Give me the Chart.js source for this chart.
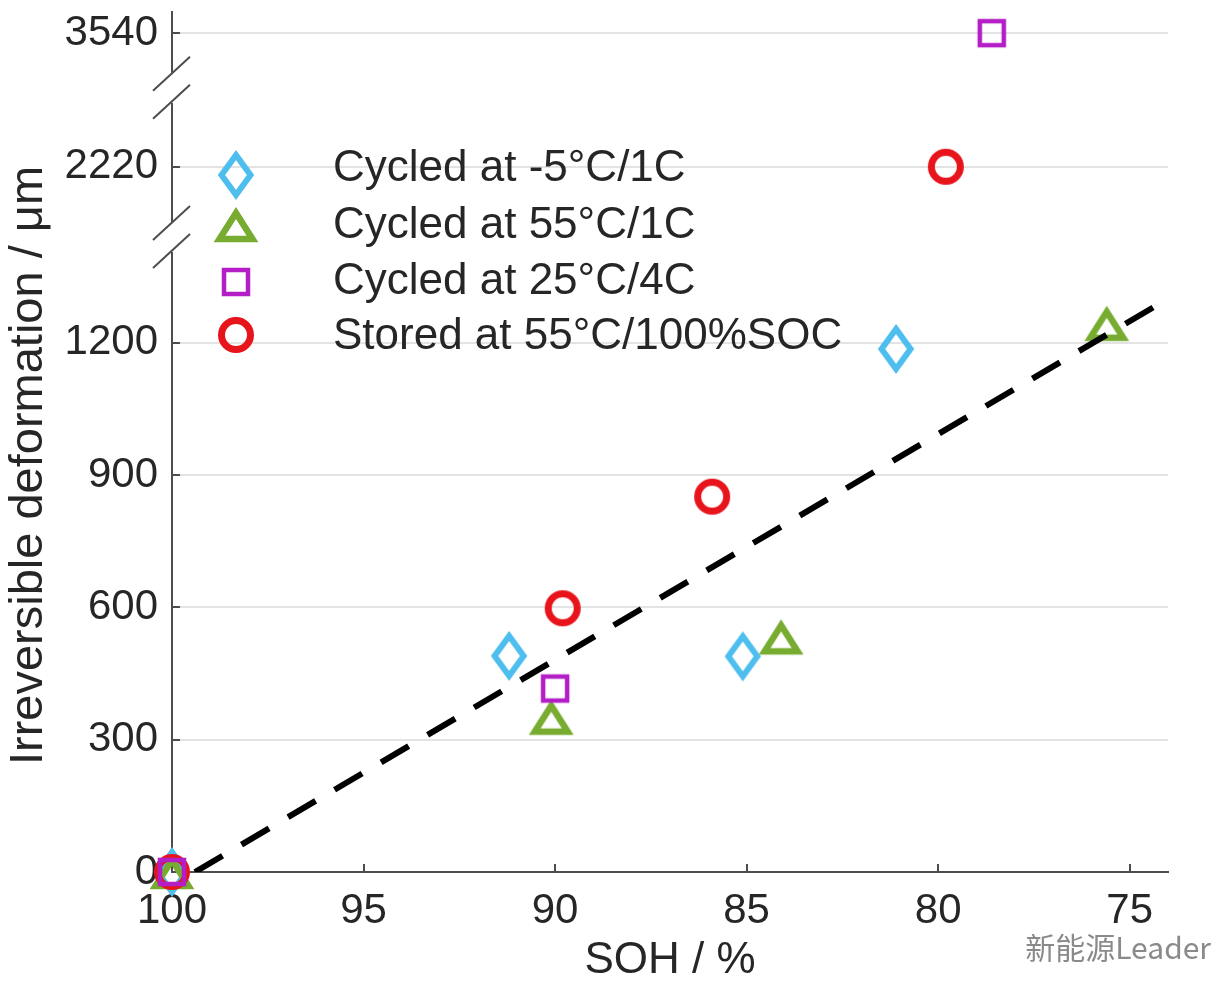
<!DOCTYPE html>
<html>
<head>
<meta charset="utf-8">
<title>Irreversible deformation vs SOH</title>
<script src="https://cdn.jsdelivr.net/npm/chart.js@4.4.1/dist/chart.umd.min.js"></script>
<style>
  html, body { margin: 0; padding: 0; background: #fff; }
  #wrap { position: relative; width: 1223px; height: 981px; }
</style>
</head>
<body>
<div id="wrap"><canvas id="chart"></canvas></div>
<script>
(function () {
  // x = SOH (%), y = irreversible deformation (um)
  var diamondSOH  = [100, 91.2, 85.1, 81.1];
  var diamondDef  = [0, 490, 489, 1186];
  var triangleSOH = [100, 90.1, 84.1, 75.6];
  var triangleDef = [0, 350, 532, 1243];
  var squareSOH   = [100, 90.0, 78.6];
  var squareDef   = [0, 416, 3540];
  var circleSOH   = [100, 89.8, 85.9, 79.8];
  var circleDef   = [0, 598, 851, 2220];
  var fitSOH = [99.4, 74];
  var fitDef = [0, 1300];

  var seriesLabels = ['Cycled at -5°C/1C', 'Cycled at 55°C/1C', 'Cycled at 25°C/4C', 'Stored at 55°C/100%SOC'];
  var xTicks = [100, 95, 90, 85, 80, 75];
  var yTicks = [0, 300, 600, 900, 1200, 2220, 3540];

  // Broken y axis: values past a break are shifted down so they land on the axis
  var SEGMENTS = [
    { from: 3000, shift: 3540 - 1902 },
    { from: 1800, shift: 2220 - 1599 },
    { from: -Infinity, shift: 0 },
  ];
  var BREAKS = [1440, 1778]; // axis units where the // marks sit

  function toAxis(v) {
    for (var i = 0; i < SEGMENTS.length; i++) {
      if (v >= SEGMENTS[i].from) { return v - SEGMENTS[i].shift; }
    }
    return v;
  }

  var C = {
    diamond:  '#4DBEEE',
    triangle: '#77AC30',
    square:   '#B31EC7',
    circle:   '#E8141C',
    axis:     '#4d4d4d',
    grid:     '#e3e3e3',
    text:     '#262626',
  };
  var FONT = '"Liberation Sans", Arial, Helvetica, sans-serif';
  Chart.defaults.font.family = FONT;
  Chart.defaults.color = C.text;

  function makeMarker(w, h, draw) {
    var c = document.createElement('canvas');
    c.width = w;
    c.height = h;
    draw(c.getContext('2d'));
    return c;
  }

  // MATLAB-like hollow markers
  var mDiamond = makeMarker(44, 52, function (g) {
    g.strokeStyle = C.diamond; g.lineWidth = 6; g.lineJoin = 'miter';
    g.beginPath();
    g.moveTo(22, 6); g.lineTo(36.5, 26); g.lineTo(22, 46); g.lineTo(7.5, 26);
    g.closePath(); g.stroke();
  });
  var mTriangle = makeMarker(48, 44, function (g) {
    g.strokeStyle = C.triangle; g.lineWidth = 6.5; g.lineJoin = 'miter';
    g.beginPath();
    g.moveTo(24, 10); g.lineTo(40.5, 36); g.lineTo(7.5, 36);
    g.closePath(); g.stroke();
  });
  var mSquare = makeMarker(34, 34, function (g) {
    g.strokeStyle = C.square; g.lineWidth = 4.5;
    g.strokeRect(5, 5, 24, 24);
  });
  var mCircle = makeMarker(42, 42, function (g) {
    g.strokeStyle = C.circle; g.lineWidth = 7;
    g.beginPath(); g.arc(21, 21, 14.5, 0, Math.PI * 2); g.stroke();
  });
  var markers = [mDiamond, mTriangle, mSquare, mCircle];

  function pts(xs, ys) {
    return xs.map(function (x, i) { return { x: x, y: toAxis(ys[i]) }; });
  }

  // axis break marks, in-plot legend, watermark
  var extrasPlugin = {
    id: 'extras',
    afterDraw: function (chart) {
      var ctx = chart.ctx;
      var ys = chart.scales.y;
      var ax = ys.right;
      ctx.save();

      BREAKS.forEach(function (b) {
        var cy = ys.getPixelForValue(b);
        ctx.fillStyle = '#fff';
        ctx.fillRect(ax - 3, cy - 15, 6, 30);
        ctx.strokeStyle = C.axis;
        ctx.lineWidth = 2;
        [-14, 14].forEach(function (d) {
          ctx.beginPath();
          ctx.moveTo(ax - 19, cy + d + 17);
          ctx.lineTo(ax + 18, cy + d - 17);
          ctx.stroke();
        });
      });

      var rowsMarker = [175, 225, 282, 335];
      var rowsText = [169, 226, 282, 337];
      ctx.font = '44px ' + FONT;
      ctx.fillStyle = C.text;
      ctx.textAlign = 'left';
      ctx.textBaseline = 'middle';
      seriesLabels.forEach(function (lbl, i) {
        var m = markers[i];
        ctx.drawImage(m, 236 - m.width / 2, rowsMarker[i] - m.height / 2);
        ctx.fillText(lbl, 333, rowsText[i]);
      });

      ctx.font = '30px "Noto Sans CJK SC", sans-serif';
      ctx.textAlign = 'right';
      ctx.lineWidth = 3;
      ctx.strokeStyle = '#fff';
      ctx.strokeText('新能源Leader', 1211, 948);
      ctx.fillStyle = '#8a8a8a';
      ctx.fillText('新能源Leader', 1211, 948);

      ctx.restore();
    },
  };

  var ctx = document.getElementById('chart').getContext('2d');

  new Chart(ctx, {
    type: 'scatter',
    plugins: [extrasPlugin],
    data: {
      datasets: [
        {
          label: 'fit',
          type: 'line',
          data: pts(fitSOH, fitDef),
          borderColor: '#000',
          borderWidth: 6,
          borderDash: [32, 22],
          pointRadius: 0,
          fill: false,
          order: 0,
        },
        { label: seriesLabels[2], data: pts(squareSOH, squareDef),     pointStyle: mSquare,   order: 1, clip: false },
        { label: seriesLabels[3], data: pts(circleSOH, circleDef),     pointStyle: mCircle,   order: 2, clip: false },
        { label: seriesLabels[1], data: pts(triangleSOH, triangleDef), pointStyle: mTriangle, order: 3, clip: false },
        { label: seriesLabels[0], data: pts(diamondSOH, diamondDef),   pointStyle: mDiamond,  order: 4, clip: false },
      ],
    },
    options: {
      responsive: true,
      maintainAspectRatio: false,
      animation: false,
      layout: { padding: { top: 12, right: 55, bottom: 0, left: 0 } },
      plugins: {
        legend: { display: false },
        tooltip: { enabled: false },
      },
      scales: {
        x: {
          type: 'linear',
          min: 74,
          max: 100,
          reverse: true,
          afterBuildTicks: function (s) {
            s.ticks = xTicks.map(function (v) { return { value: v }; });
          },
          afterFit: function (s) { s.height = 109; s.paddingLeft = 0; s.paddingRight = 0; },
          ticks: { padding: 22, font: { size: 42 }, color: C.text, autoSkip: false, maxRotation: 0 },
          grid: { drawOnChartArea: false, tickLength: -8, tickColor: C.axis, lineWidth: 2 },
          border: { color: C.axis, width: 2 },
          title: { display: true, text: 'SOH / %', font: { size: 44, lineHeight: 0.9 }, color: C.text, padding: 0 },
        },
        y: {
          type: 'linear',
          min: 0,
          max: 1950,
          afterBuildTicks: function (s) {
            s.ticks = yTicks.map(function (v) { return { value: toAxis(v) }; });
          },
          afterFit: function (s) { s.width = 172; s.paddingTop = 0; s.paddingBottom = 0; },
          ticks: {
            padding: 22,
            font: { size: 42 },
            color: C.text,
            autoSkip: false,
            callback: function (v, i) { return String(yTicks[i]); },
          },
          grid: { color: C.grid, lineWidth: 2, tickLength: -8, tickColor: C.axis },
          border: { color: C.axis, width: 2 },
          title: {
            display: true,
            text: 'Irreversible deformation / μm\u2003',
            font: { size: 47, lineHeight: 0.9 },
            color: C.text,
            padding: { top: 8, bottom: 0 },
          },
        },
      },
    },
  });
})();
</script>
</body>
</html>
